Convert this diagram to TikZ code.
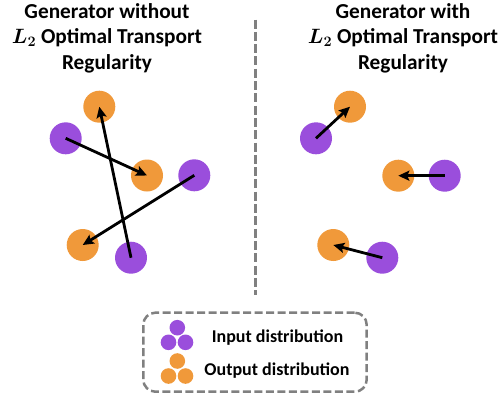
\documentclass[tikz,border=0pt]{standalone}
\usepackage{fontspec}
\setmainfont{Carlito}
\usetikzlibrary{arrows.meta}
\definecolor{ppl}{HTML}{9A4EDC}
\definecolor{org}{HTML}{F0993A}
\definecolor{dgray}{HTML}{808080}
\begin{document}
\begin{tikzpicture}[x=1pt,y=-1pt,
  pt/.style={circle,inner sep=0pt,minimum size=32pt},
  inpt/.style={pt,fill=ppl},
  outpt/.style={pt,fill=org},
  lgin/.style={circle,inner sep=0pt,minimum size=15.6pt,fill=ppl},
  lgout/.style={circle,inner sep=0pt,minimum size=15.6pt,fill=org},
  mapar/.style={line width=2.8pt,-{Stealth[length=11pt,width=10pt,inset=2pt]}},
  title/.style={align=center,font=\fontsize{21.3}{25.5}\selectfont\bfseries\boldmath,inner sep=0pt},
  lgtext/.style={font=\fontsize{18}{21}\selectfont\bfseries,inner sep=0pt},
  dashline/.style={dgray,line width=3pt,dash pattern=on 9pt off 3.3pt}
]
\useasboundingbox (0,0) rectangle (502,394);
% titles
\node[title] (t1) at (107,38) {Generator without\\$L_2$ Optimal Transport\\Regularity};
\node[title] (t2) at (403,38) {Generator with\\$L_2$ Optimal Transport\\Regularity};
% divider
\coordinate (d1) at (255.5,19.5);
\coordinate (d2) at (255.5,295);
\draw[dashline] (d1) -- (d2);
% left panel
\node[outpt] (lo1) at (99.3,106.7) {};
\node[inpt]  (li1) at (65.7,138.3) {};
\node[outpt] (lo2) at (147,175.5) {};
\node[inpt]  (li2) at (194.3,175.3) {};
\node[outpt] (lo3) at (82.7,245) {};
\node[inpt]  (li3) at (131,257.7) {};
\draw[mapar] (li1.center) -- (lo2.center);
\draw[mapar] (li3.center) -- (lo1.center);
\draw[mapar] (li2.center) -- (lo3.center);
% right panel
\node[outpt] (ro1) at (350,106.7) {};
\node[inpt]  (ri1) at (316,138.3) {};
\node[outpt] (ro2) at (398.3,175.7) {};
\node[inpt]  (ri2) at (444.7,175.7) {};
\node[outpt] (ro3) at (333.3,245) {};
\node[inpt]  (ri3) at (382.3,257.7) {};
\draw[mapar] (ri1.center) -- (ro1.center);
\draw[mapar] (ri2.center) -- (ro2.center);
\draw[mapar] (ri3.center) -- (ro3.center);
% legend
\node[draw=dgray,line width=2.5pt,dash pattern=on 8pt off 3.5pt,rounded corners=12pt,
      minimum width=223.4pt,minimum height=79pt,inner sep=0pt] (lg) at (255,352.2) {};
\node[lgin] (a1) at (177.3,327.7) {};
\node[lgin] (a2) at (168.5,342.3) {};
\node[lgin] (a3) at (185.5,342.3) {};
\node[lgout] (b1) at (177.3,361) {};
\node[lgout] (b2) at (168.5,376) {};
\node[lgout] (b3) at (185.5,376) {};
\node[lgtext] (lin) at (277.5,337.7) {Input distribution};
\node[lgtext] (lout) at (277,370.7) {Output distribution};
\end{tikzpicture}
\end{document}
